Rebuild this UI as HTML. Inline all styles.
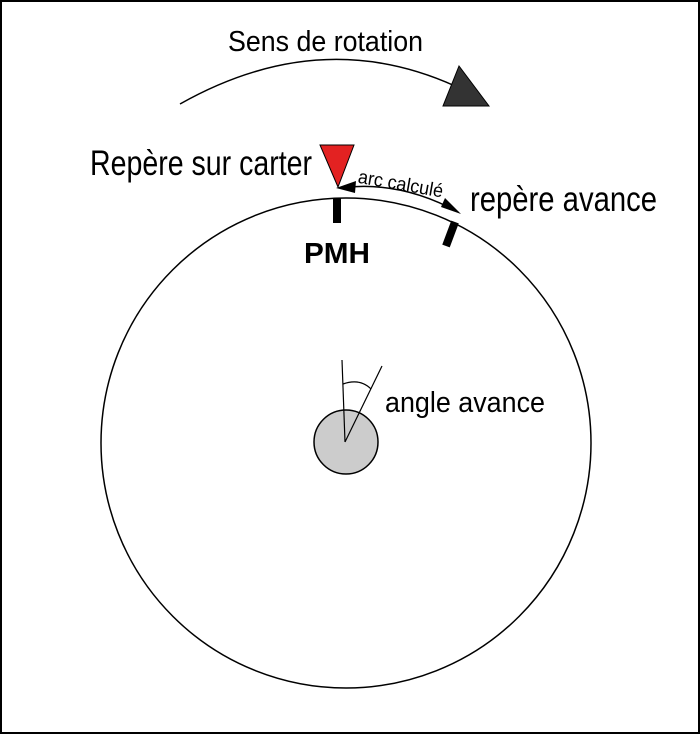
<!DOCTYPE html>
<html><head><style>body{margin:0;background:#fff}svg{display:block}</style></head><body>
<svg width="700" height="734" viewBox="0 0 700 734" xmlns="http://www.w3.org/2000/svg" font-family="Liberation Sans, sans-serif">
<rect x="1" y="1" width="698" height="732" fill="#fff" stroke="#000" stroke-width="2"/>
<text x="228" y="51" font-size="29" textLength="195" lengthAdjust="spacingAndGlyphs">Sens de rotation</text>
<path d="M180,104 Q320,25 455,86" fill="none" stroke="#000" stroke-width="1.5"/>
<polygon points="459,66 443,106 489,106" fill="#333" stroke="#000"/>
<text x="90" y="175" font-size="35" textLength="222" lengthAdjust="spacingAndGlyphs">Repère sur carter</text>
<polygon points="320,145 354,145 338,187" fill="#e32222" stroke="#000"/>
<text x="470" y="211" font-size="35" textLength="187" lengthAdjust="spacingAndGlyphs">repère avance</text>
<circle cx="346" cy="443" r="245" fill="#fff" stroke="#000" stroke-width="1.5"/>
<rect x="333" y="198" width="8" height="25" fill="#000"/>
<line x1="455" y1="222" x2="446" y2="246" stroke="#000" stroke-width="8"/>
<text x="304" y="263" font-size="29" font-weight="bold" textLength="66" lengthAdjust="spacingAndGlyphs">PMH</text>
<path d="M340,188 Q400,180 458,212" fill="none" stroke="#000" stroke-width="1.5"/>
<polygon points="336,188 356,181 355,193" fill="#000"/>
<polygon points="461,214 441,207 445,198" fill="#000"/>
<text x="358" y="190" font-size="19" transform="rotate(10 400 182)" textLength="86" lengthAdjust="spacingAndGlyphs">arc calculé</text>
<circle cx="346" cy="442" r="32" fill="#ccc" stroke="#000" stroke-width="1.5"/>
<line x1="345" y1="442" x2="342" y2="360" stroke="#000" stroke-width="1.2"/>
<line x1="345" y1="442" x2="382" y2="366" stroke="#000" stroke-width="1.2"/>
<path d="M343,384 Q360,378 371,389" fill="none" stroke="#000" stroke-width="1.2"/>
<text x="385" y="412" font-size="29" textLength="160" lengthAdjust="spacingAndGlyphs">angle avance</text>
</svg>
</body></html>
